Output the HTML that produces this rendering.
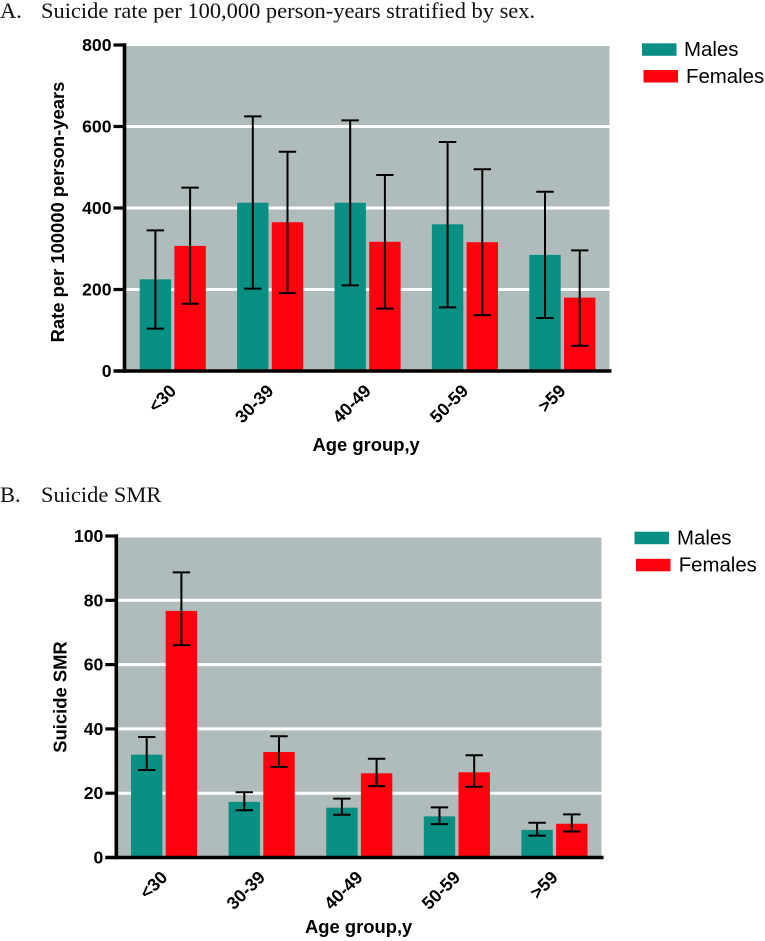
<!DOCTYPE html>
<html lang="en">
<head>
<meta charset="utf-8">
<title>Suicide rate and SMR by age group and sex</title>
<style>
html,body{margin:0;padding:0;background:#fff;}
svg{display:block;}
.title{font-family:"Liberation Serif",serif;font-size:22.45px;fill:#111;}
.tick{font-family:"Liberation Sans",sans-serif;font-weight:bold;font-size:17.6px;fill:#000;}
.axt{font-family:"Liberation Sans",sans-serif;font-weight:bold;font-size:18.4px;fill:#000;}
.cat{font-family:"Liberation Sans",sans-serif;font-weight:bold;font-size:17.8px;fill:#000;}
.leg{font-family:"Liberation Sans",sans-serif;font-size:20.4px;fill:#000;}
</style>
</head>
<body>
<svg id="fig" width="765" height="941" viewBox="0 0 765 941" xmlns="http://www.w3.org/2000/svg">
  <text class="title" x="0" y="18">A.</text>
  <text class="title" x="41" y="18">Suicide rate per 100,000 person-years stratified by sex.</text>
  <text class="title" x="0" y="502">B.</text>
  <text class="title" x="41" y="502">Suicide SMR</text>
</svg>
<script>
const categories = ['<30', '30-39', '40-49', '50-59', '>59'];

const rateTicks = [0, 200, 400, 600, 800];
const rateMales = [225, 413, 413, 360, 285];
const rateFemales = [307, 365, 317, 316, 180];
const rateMalesUpper = [345, 625, 615, 562, 440];
const rateMalesLower = [104, 202, 210, 156, 130];
const rateFemalesUpper = [450, 538, 481, 495, 296];
const rateFemalesLower = [165, 191, 153, 137, 62];

const smrTicks = [0, 20, 40, 60, 80, 100];
const smrMales = [32, 17.3, 15.5, 12.8, 8.6];
const smrFemales = [76.7, 32.8, 26.2, 26.5, 10.5];
const smrMalesUpper = [37.5, 20.3, 18.3, 15.6, 10.8];
const smrMalesLower = [27.2, 14.7, 13.3, 10.4, 6.8];
const smrFemalesUpper = [88.7, 37.7, 30.7, 31.8, 13.4];
const smrFemalesLower = [66, 28.2, 22.2, 22, 8.1];

const SVGNS = 'http://www.w3.org/2000/svg';
const TEAL = '#0a9083';
const RED = '#ff000e';
const fig = document.getElementById('fig');

function make(tag, attrs, text) {
  const el = document.createElementNS(SVGNS, tag);
  for (const k in attrs) el.setAttribute(k, attrs[k]);
  if (text !== undefined) el.textContent = text;
  fig.appendChild(el);
  return el;
}

function nameIt(el, name) {
  
  
  return el;
}

function drawChart(c) {
  const yMax = c.ticks[c.ticks.length - 1];
  const y = v => c.y0 - (v / yMax) * (c.y0 - c.yTop);
  const groupX = i => c.firstBar + i * c.step;

  nameIt(make('rect', {x: c.axisX, y: c.plotTop, width: c.right - c.axisX, height: c.y0 - c.plotTop, fill: '#b0bcbb'}), c.id + '-plot-background');

  c.ticks.forEach(t => {
    if (t !== 0 && t !== yMax) {
      nameIt(make('line', {x1: c.axisX, x2: c.right, y1: y(t), y2: y(t), stroke: '#fff', 'stroke-width': 3}), c.id + '-gridline-' + t);
    }
  });

  categories.forEach((cat, i) => {
    const mx = groupX(i);
    const fx = mx + c.femaleOffset;
    nameIt(make('rect', {x: mx, y: y(c.males[i]), width: c.barW, height: c.y0 - y(c.males[i]), fill: TEAL}), c.id + '-bar-males-' + i);
    nameIt(make('rect', {x: fx, y: y(c.females[i]), width: c.barW, height: c.y0 - y(c.females[i]), fill: RED}), c.id + '-bar-females-' + i);
    drawError(c, y, mx + c.barW / 2, c.malesUpper[i], c.malesLower[i], 'males-' + i);
    drawError(c, y, fx + c.barW / 2, c.femalesUpper[i], c.femalesLower[i], 'females-' + i);
    const lx = mx + c.labelDx;
    const ly = c.y0 + c.labelDy;
    nameIt(make('text', {class: 'cat', x: lx, y: ly, 'text-anchor': 'end', transform: 'rotate(-45 ' + lx + ' ' + ly + ')'}, cat), c.id + '-category-label-' + i);
  });

  nameIt(make('line', {x1: c.axisX, x2: c.axisX, y1: y(yMax) - 1.8, y2: c.y0 + 1.8, stroke: '#000', 'stroke-width': 3.6}), c.id + '-y-axis');
  nameIt(make('line', {x1: c.axisX - 11, x2: c.right + 2, y1: c.y0, y2: c.y0, stroke: '#000', 'stroke-width': 3.6}), c.id + '-x-axis');
  c.ticks.forEach(t => {
    if (t !== 0) {
      nameIt(make('line', {x1: c.axisX - 11, x2: c.axisX, y1: y(t), y2: y(t), stroke: '#000', 'stroke-width': 3.2}), c.id + '-y-tick-' + t);
    }
    nameIt(make('text', {class: 'tick', x: c.axisX - 13, y: y(t) + 6, 'text-anchor': 'end'}, String(t)), c.id + '-y-tick-label-' + t);
  });

  const yt = make('text', {class: 'axt', x: c.yTitleX, y: c.yTitleY, 'text-anchor': 'middle', transform: 'rotate(-90 ' + c.yTitleX + ' ' + c.yTitleY + ')'}, c.yTitle);
  nameIt(yt, c.id + '-y-axis-title');
  nameIt(make('text', {class: 'axt', x: c.xTitleX, y: c.xTitleY}, 'Age group,y'), c.id + '-x-axis-title');

  nameIt(make('rect', {x: c.legM[0], y: c.legM[1], width: 34.5, height: 12.5, fill: TEAL}), c.id + '-legend-swatch-males');
  nameIt(make('text', {class: 'leg', x: c.legM[2], y: c.legM[3]}, 'Males'), c.id + '-legend-label-males');
  nameIt(make('rect', {x: c.legF[0], y: c.legF[1], width: 34.5, height: 12.5, fill: RED}), c.id + '-legend-swatch-females');
  nameIt(make('text', {class: 'leg', x: c.legF[2], y: c.legF[3]}, 'Females'), c.id + '-legend-label-females');
}

function drawError(c, y, x, up, lo, key) {
  const g = nameIt(make('path', {
    d: 'M' + x + ' ' + y(up) + 'V' + y(lo) + 'M' + (x - 8.7) + ' ' + y(up) + 'H' + (x + 8.7) + 'M' + (x - 8.7) + ' ' + y(lo) + 'H' + (x + 8.7),
    fill: 'none', stroke: '#000', 'stroke-width': 2
  }), c.id + '-error-bar-' + key);
  return g;
}

drawChart({
  id: 'rate', ticks: rateTicks, males: rateMales, females: rateFemales,
  malesUpper: rateMalesUpper, malesLower: rateMalesLower,
  femalesUpper: rateFemalesUpper, femalesLower: rateFemalesLower,
  axisX: 124.5, right: 609.5, y0: 371, yTop: 45, plotTop: 46,
  firstBar: 139.7, step: 97.4, barW: 31.4, femaleOffset: 34.7,
  labelDx: 37.5, labelDy: 21,
  yTitle: 'Rate per 100000 person-years', yTitleX: 64, yTitleY: 212,
  xTitleX: 312.5, xTitleY: 451,
  legM: [642, 43.3, 684, 56], legF: [643.5, 70, 686, 83]
});

drawChart({
  id: 'smr', ticks: smrTicks, males: smrMales, females: smrFemales,
  malesUpper: smrMalesUpper, malesLower: smrMalesLower,
  femalesUpper: smrFemalesUpper, femalesLower: smrFemalesLower,
  axisX: 116.3, right: 601.5, y0: 857.5, yTop: 536, plotTop: 537.5,
  firstBar: 131, step: 97.6, barW: 31.4, femaleOffset: 34.7,
  labelDx: 37.5, labelDy: 21,
  yTitle: 'Suicide SMR', yTitleX: 66.5, yTitleY: 697,
  xTitleX: 305, xTitleY: 933,
  legM: [634.5, 531.7, 677, 544.5], legF: [636, 558.8, 678.7, 571.5]
});
</script>
</body>
</html>
